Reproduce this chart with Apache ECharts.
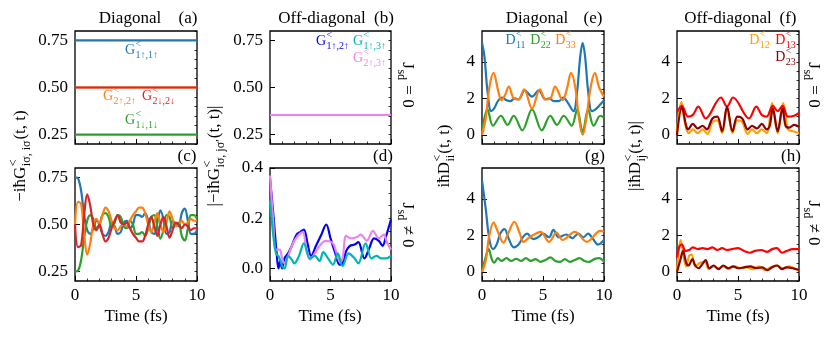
<!DOCTYPE html>
<html>
<head>
<meta charset="utf-8">
<script src="https://cdn.jsdelivr.net/npm/echarts@6/dist/echarts.min.js"></script>
<style>
  html, body { margin: 0; padding: 0; background: #fff; }
  #chart { width: 830px; height: 338px; }
</style>
</head>
<body>
<div id="chart"></div>
<script>
// ---- data (time in fs) ----
const timesC = [0,0.25,0.5,0.75,1,1.25,1.5,1.75,2,2.25,2.5,2.75,3,3.25,3.5,3.75,4,4.25,4.5,4.75,5,
                5.25,5.5,5.75,6,6.25,6.5,6.75,7,7.25,7.5,7.75,8,8.25,8.5,8.75,9,9.25,9.5,9.75,10];

// (a) J_sd = 0, diagonal G (constant)
const aBlue   = [[0,0.75],[10,0.75]];
const aOrange = [[0,0.5],[10,0.5]];
const aRed    = [[0,0.5],[10,0.5]];
const aGreen  = [[0,0.25],[10,0.25]];

// (b) J_sd = 0, off-diagonal |G| (constant, overlapping)
const bBlue   = [[0,0.354],[10,0.354]];
const bCyan   = [[0,0.354],[10,0.354]];
const bViolet = [[0,0.354],[10,0.354]];

// (c) J_sd != 0, diagonal G
const cBlue   = [0.75,0.745,0.68,0.55,0.47,0.45,0.48,0.52,0.50,0.45,0.44,0.46,0.51,0.49,0.45,0.46,0.51,0.52,0.48,0.50,0.55,
                 0.55,0.54,0.56,0.52,0.46,0.45,0.51,0.575,0.53,0.45,0.46,0.52,0.50,0.49,0.56,0.585,0.52,0.45,0.45,0.47];
const cGreen  = [0.25,0.255,0.31,0.43,0.52,0.55,0.53,0.48,0.50,0.55,0.56,0.54,0.49,0.51,0.55,0.54,0.49,0.48,0.52,0.50,0.45,
                 0.45,0.46,0.44,0.48,0.54,0.55,0.49,0.425,0.47,0.55,0.54,0.48,0.50,0.51,0.44,0.415,0.48,0.55,0.55,0.53];
const cOrange = [0.50,0.62,0.61,0.45,0.34,0.40,0.50,0.53,0.50,0.55,0.59,0.57,0.52,0.48,0.47,0.49,0.50,0.49,0.52,0.55,0.57,
                 0.59,0.59,0.56,0.50,0.46,0.51,0.56,0.50,0.46,0.51,0.57,0.53,0.49,0.50,0.52,0.50,0.51,0.53,0.52,0.52];
const cRed    = [0.50,0.38,0.39,0.55,0.66,0.60,0.50,0.47,0.50,0.45,0.41,0.43,0.48,0.52,0.55,0.51,0.50,0.51,0.48,0.45,0.43,
                 0.41,0.41,0.44,0.50,0.54,0.49,0.44,0.50,0.54,0.49,0.43,0.47,0.51,0.50,0.48,0.50,0.49,0.47,0.48,0.48];

// (d) J_sd != 0, off-diagonal |G|
const dBlue = [[0,0.36],[0.3,0.2],[0.55,0.06],[0.7,0.0],[0.85,0.03],[1.0,0.0],[1.2,0.04],[1.5,0.06],[1.8,0.09],
               [2.2,0.135],[2.5,0.145],[2.8,0.155],[3.1,0.10],[3.4,0.05],[3.8,0.09],[4.2,0.13],[4.65,0.175],[5.0,0.12],
               [5.4,0.06],[5.75,0.015],[6.0,0.02],[6.3,0.07],[6.6,0.09],[7.0,0.095],[7.3,0.105],[7.8,0.04],[8.2,0.08],
               [8.6,0.12],[9.0,0.11],[9.3,0.09],[9.6,0.13],[10,0.195]];
const dCyan = [[0,0.27],[0.3,0.12],[0.5,0.06],[0.75,0.045],[1.0,0.01],[1.2,0.0],[1.5,0.05],[1.8,0.035],[2.0,0.02],
               [2.4,0.05],[2.8,0.10],[3.3,0.04],[3.7,0.05],[4.1,0.03],[4.4,0.065],[4.8,0.04],[5.2,0.015],[5.6,0.06],
               [6.0,0.01],[6.5,0.06],[7.0,0.04],[7.3,0.02],[7.9,0.10],[8.4,0.04],[8.8,0.05],[9.2,0.04],[9.6,0.04],[10,0.05]];
const dViolet = [[0,0.37],[0.25,0.2],[0.5,0.075],[0.8,0.075],[1.0,0.04],[1.2,0.02],[1.5,0.05],[1.9,0.10],[2.3,0.13],
                 [2.7,0.145],[3.0,0.08],[3.3,0.035],[3.7,0.06],[4.1,0.09],[4.6,0.11],[5.2,0.10],[5.5,0.06],[5.8,0.025],
                 [6.0,0.04],[6.3,0.13],[6.7,0.12],[7.2,0.125],[7.5,0.135],[8.0,0.11],[8.5,0.15],[9.0,0.12],[9.4,0.135],
                 [9.7,0.10],[10,0.075]];

// (e) J_sd = 0, diagonal D
const eBlue = [[0,5.05],[0.2,4.3],[0.45,2.4],[0.75,1.3],[1.0,1.45],[1.3,1.85],[1.65,2.05],[2.0,1.9],[2.3,1.85],[2.7,2.0],
               [3.0,1.95],[3.5,2.45],[4.1,2.1],[4.65,2.45],[5.2,1.95],[5.5,2.0],[5.9,1.85],[6.3,1.85],[6.65,2.05],
               [7.0,1.8],[7.5,1.3],[7.8,2.4],[8.05,4.3],[8.25,5.05],[8.45,4.3],[8.7,2.4],[9.0,1.3],[9.3,1.4],[9.6,1.6],[10,1.9]];
const eGreen = [[0,0.15],[0.45,1.4],[0.9,0.5],[1.55,1.05],[2.1,0.55],[2.6,1.05],[3.3,0.25],[4.1,1.4],[4.9,0.25],
                [5.6,1.05],[6.15,0.55],[6.7,1.05],[7.35,0.5],[7.8,1.4],[8.25,0.15],[8.7,1.4],[9.15,0.5],[9.7,1.05],[10,0.95]];
const eOrange = [[0,0.0],[0.3,0.9],[0.6,2.6],[0.95,3.4],[1.3,2.5],[1.6,1.9],[1.9,2.2],[2.2,2.65],[2.6,2.0],[3.0,1.95],
                 [3.45,2.5],[4.1,1.45],[4.75,2.5],[5.2,1.95],[5.6,2.0],[6.0,2.65],[6.6,1.9],[6.95,2.5],[7.3,3.4],
                 [7.65,2.6],[7.95,0.9],[8.25,0.0],[8.55,0.9],[8.9,2.6],[9.25,3.4],[9.6,2.6],[10,2.1]];

// (f) J_sd = 0, off-diagonal |D|
const fOrange = [[0,0.2],[0.35,1.8],[0.7,0.5],[0.95,0.1],[1.3,0.3],[1.7,0.1],[2.1,0.3],[2.5,0.05],[2.9,0.7],[3.3,0.8],
                 [3.7,0.1],[4.1,1.5],[4.55,0.1],[4.95,0.8],[5.35,0.7],[5.8,0.05],[6.15,0.3],[6.55,0.1],[6.95,0.3],
                 [7.35,0.1],[7.8,1.75],[8.25,0.1],[8.7,1.75],[9.1,0.3],[9.5,0.2],[10,0.1]];
const fRed = [[0,1.25],[0.4,1.6],[0.9,1.0],[1.3,1.1],[1.75,1.55],[2.35,0.9],[3.6,2.05],[4.1,1.55],[4.6,2.05],
              [5.9,0.9],[6.5,1.55],[6.95,1.1],[7.35,1.0],[7.85,1.6],[8.25,1.3],[8.65,1.6],[9.1,1.0],[9.6,1.05],[10,1.2]];
const fDark = [[0,0.0],[0.4,1.5],[0.75,0.5],[0.9,0.3],[1.3,0.6],[1.7,0.35],[2.1,0.5],[2.45,0.3],[2.9,0.9],[3.3,1.0],
               [3.7,0.2],[4.1,1.55],[4.55,0.2],[4.95,1.0],[5.35,0.9],[5.8,0.3],[6.15,0.5],[6.55,0.35],[6.95,0.6],
               [7.35,0.3],[7.6,0.5],[7.85,1.45],[8.25,0.2],[8.65,1.45],[8.9,0.5],[9.2,0.4],[9.6,0.55],[10,0.45]];

// (g) J_sd != 0, diagonal D
const gBlue = [[0,5.0],[0.3,3.5],[0.6,1.8],[0.9,1.25],[1.2,1.5],[1.5,2.1],[1.85,2.35],[2.2,1.8],[2.6,1.35],[3.0,1.5],
               [3.4,1.95],[3.7,2.1],[4.2,1.8],[4.6,1.9],[5.0,2.1],[5.5,1.9],[5.85,2.3],[6.3,1.9],[6.9,2.05],[7.4,1.85],
               [7.9,2.1],[8.3,1.9],[8.7,2.1],[9.1,1.8],[9.5,1.5],[10,1.75]];
const gGreen = [[0,0.0],[0.3,0.8],[0.55,1.25],[0.8,0.7],[1.0,0.5],[1.3,0.75],[1.6,0.6],[2.0,0.75],[2.4,0.6],[2.8,0.72],
                [3.2,0.6],[3.6,0.75],[4.0,0.6],[4.4,0.7],[4.8,0.55],[5.2,0.65],[5.6,0.8],[6.0,0.6],[6.4,0.55],[6.8,0.7],
                [7.2,0.55],[7.6,0.65],[8.0,0.75],[8.4,0.6],[8.8,0.55],[9.2,0.7],[9.6,0.75],[10,0.55]];
const gOrange = [[0,0.0],[0.3,0.6],[0.6,2.0],[0.95,2.7],[1.3,2.2],[1.75,1.6],[2.2,2.2],[2.65,2.75],[3.1,2.1],[3.4,1.65],
                 [3.9,1.9],[4.8,2.2],[5.5,1.65],[6.1,2.15],[6.6,1.75],[7.6,2.2],[8.6,1.65],[9.7,2.25],[10,2.2]];

// (h) J_sd != 0, off-diagonal |D|
const hOrange = [[0,0.0],[0.15,1.2],[0.3,1.75],[0.5,1.0],[0.75,0.3],[1.0,0.9],[1.2,0.95],[1.5,0.3],[1.9,0.5],[2.3,0.55],
                 [2.6,0.15],[3.0,0.3],[3.4,0.2],[3.8,0.3],[4.2,0.15],[4.7,0.3],[5.2,0.2],[5.7,0.25],[6.2,0.15],[6.7,0.3],
                 [7.2,0.1],[7.7,0.25],[8.2,0.35],[8.7,0.2],[9.2,0.3],[9.6,0.2],[10,0.1]];
const hRed = [[0,0.8],[0.2,1.4],[0.4,1.5],[0.7,1.15],[1.0,1.2],[1.3,1.35],[1.7,1.25],[2.1,1.3],[2.5,1.25],[2.9,1.35],
              [3.3,1.2],[3.7,1.3],[4.1,1.2],[4.5,1.25],[5.0,1.3],[5.5,1.15],[6.0,1.05],[6.4,1.15],[6.9,1.2],[7.4,1.1],
              [7.8,1.25],[8.2,1.3],[8.6,1.05],[9.0,1.15],[9.5,1.25],[10,1.25]];
const hDark = [[0,0.0],[0.25,0.6],[0.5,1.15],[0.75,0.5],[0.95,0.35],[1.25,0.7],[1.5,0.35],[1.75,0.2],[2.1,0.45],
               [2.35,0.65],[2.65,0.2],[3.0,0.35],[3.4,0.15],[3.8,0.35],[4.2,0.2],[4.6,0.3],[5.0,0.2],[5.5,0.25],[6.0,0.3],
               [6.5,0.2],[7.0,0.25],[7.4,0.1],[7.8,0.25],[8.2,0.35],[8.6,0.15],[9.0,0.25],[9.5,0.2],[10,0.1]];

const xTicks = [0, 5, 10];

// ---- styling ----
const SERIF = '"Liberation Serif", "Times New Roman", serif';
const TAB = { blue: '#1f77b4', orange: '#ff7f0e', green: '#2ca02c', red: '#d62728' };
const OFF = { blue: '#0000ff', cyan: '#00b5b5', violet: '#ee82ee' };
const DC  = { orange: '#ffa000', red: '#ff0000', dark: '#8b0000' };

const onGrid = (ys) => timesC.map((t, k) => [t, ys[k]]);

// panel layout: left, top, width, y range, ticks
const panels = [
  { left: 75,  top: 31,  w: 122, min: 0.2,   max: 0.8, major: [0.25, 0.5, 0.75], minor: 0.05, dec: 2, bottom: false,
    lines: [[aBlue, TAB.blue], [aGreen, TAB.green], [aOrange, TAB.orange], [aRed, TAB.red]] },
  { left: 270, top: 31,  w: 121, min: 0.2,   max: 0.8, major: [0.25, 0.5, 0.75], minor: 0.05, dec: 2, bottom: false,
    lines: [[bBlue, OFF.blue], [bCyan, OFF.cyan], [bViolet, OFF.violet]] },
  { left: 482, top: 31,  w: 122, min: -0.5,  max: 5.7, major: [0, 2, 4], minor: 0.5, dec: 0, bottom: false,
    lines: [[eBlue, TAB.blue], [eGreen, TAB.green], [eOrange, TAB.orange]] },
  { left: 677, top: 31,  w: 122, min: -0.5,  max: 5.7, major: [0, 2, 4], minor: 0.5, dec: 0, bottom: false,
    lines: [[fOrange, DC.orange], [fRed, DC.red], [fDark, DC.dark]] },
  { left: 75,  top: 168, w: 122, min: 0.2,   max: 0.8, major: [0.25, 0.5, 0.75], minor: 0.05, dec: 2, bottom: true,
    lines: [[onGrid(cBlue), TAB.blue], [onGrid(cGreen), TAB.green], [onGrid(cOrange), TAB.orange], [onGrid(cRed), TAB.red]] },
  { left: 270, top: 168, w: 121, min: -0.05, max: 0.4, major: [0, 0.2, 0.4], minor: 0.05, dec: 1, bottom: true,
    lines: [[dBlue, OFF.blue], [dViolet, OFF.violet], [dCyan, OFF.cyan]] },
  { left: 482, top: 168, w: 122, min: -0.5,  max: 5.7, major: [0, 2, 4], minor: 0.5, dec: 0, bottom: true,
    lines: [[gBlue, TAB.blue], [gGreen, TAB.green], [gOrange, TAB.orange]] },
  { left: 677, top: 168, w: 122, min: -0.5,  max: 5.7, major: [0, 2, 4], minor: 0.5, dec: 0, bottom: true,
    lines: [[hOrange, DC.orange], [hRed, DC.red], [hDark, DC.dark]] }
];
const PH = 113;

const labelFont = { fontFamily: SERIF, fontSize: 17, color: '#000' };

const grid = [], xAxis = [], yAxis = [], series = [];
panels.forEach((p, i) => {
  grid.push({ left: p.left, top: p.top, width: p.w, height: PH, show: true,
              borderColor: '#000', borderWidth: 1.3, backgroundColor: 'transparent' });
  xAxis.push({
    type: 'value', gridIndex: i, min: 0, max: 10, interval: 5,
    axisLine: { show: false, onZero: false },
    axisTick: { show: true, inside: true, length: 5, lineStyle: { color: '#000', width: 1 } },
    minorTick: { show: true, splitNumber: 5, length: 2.5, lineStyle: { color: '#000', width: 0.8 } },
    axisLabel: Object.assign({ show: p.bottom, margin: 6, customValues: xTicks }, labelFont),
    splitLine: { show: false }
  });
  yAxis.push({
    type: 'value', gridIndex: i, min: p.min, max: p.max,
    axisLine: { show: false, onZero: false },
    axisTick: { show: true, inside: true, length: 5, customValues: p.major, lineStyle: { color: '#000', width: 1 } },
    axisLabel: Object.assign({ margin: 7, customValues: p.major, formatter: v => v.toFixed(p.dec) }, labelFont),
    splitLine: { show: false }
  });
  p.lines.forEach(([data, color]) => {
    series.push({
      type: 'line', xAxisIndex: i, yAxisIndex: i, data: data,
      smooth: 0.35, showSymbol: false, clip: true,
      lineStyle: { color: color, width: 2.2 }, itemStyle: { color: color }
    });
  });
});
// minor y ticks, one extra y axis per grid
panels.forEach((p, i) => {
  yAxis.push({
    type: 'value', gridIndex: i, min: p.min, max: p.max, interval: p.minor,
    axisLine: { show: false, onZero: false },
    axisTick: { show: true, inside: true, length: 2.5, lineStyle: { color: '#000', width: 0.8 } },
    axisLabel: { show: false }, splitLine: { show: false }
  });
});

// ---- math-like text built from pieces ----
const measureCtx = document.createElement('canvas').getContext('2d');
function textWidth(s, size) {
  measureCtx.font = size + 'px ' + SERIF;
  return measureCtx.measureText(s).width;
}
function txt(s, x, y, size, color) {
  return { type: 'text', x: x, y: y,
    style: { text: s, font: size + 'px ' + SERIF, fill: color,
             textAlign: 'left', align: 'left', textVerticalAlign: 'middle', verticalAlign: 'middle' } };
}
function mathText(x, y, parts, size, color, rotation, ratio) {
  const small = Math.round(size * (ratio || 0.68));
  const children = [];
  let cx = 0;
  parts.forEach(p => {
    if (typeof p === 'string') {
      children.push(txt(p, cx, 0, size, color));
      cx += textWidth(p, size);
    } else {
      let wmax = 0;
      if (p.sup) { children.push(txt(p.sup, cx + 0.5, -size * 0.42, small, color)); wmax = Math.max(wmax, textWidth(p.sup, small)); }
      if (p.sub) { children.push(txt(p.sub, cx + 0.5, size * 0.36, small, color)); wmax = Math.max(wmax, textWidth(p.sub, small)); }
      cx += wmax + 1.5;
    }
  });
  children.forEach(c => { c.x -= cx / 2; });
  return { type: 'group', x: x, y: y, rotation: rotation || 0, children: children };
}
const legendText = (x, y, parts, color) => mathText(x, y, parts, 14, color, 0, 0.72);

const R90 = Math.PI / 2;
const graphic = [
  mathText(130, 19, ['Diagonal'], 17, '#000'),
  mathText(188, 19, ['(a)'], 17, '#000'),
  mathText(322, 19, ['Off-diagonal'], 17, '#000'),
  mathText(384, 19, ['(b)'], 17, '#000'),
  mathText(537, 19, ['Diagonal'], 17, '#000'),
  mathText(593, 19, ['(e)'], 17, '#000'),
  mathText(728, 19, ['Off-diagonal'], 17, '#000'),
  mathText(788, 19, ['(f)'], 17, '#000'),
  mathText(187, 157, ['(c)'], 17, '#000'),
  mathText(383, 157, ['(d)'], 17, '#000'),
  mathText(595, 157, ['(g)'], 17, '#000'),
  mathText(791, 157, ['(h)'], 17, '#000'),

  mathText(136, 317, ['Time (fs)'], 17, '#000'),
  mathText(330, 317, ['Time (fs)'], 17, '#000'),
  mathText(543, 317, ['Time (fs)'], 17, '#000'),
  mathText(738, 317, ['Time (fs)'], 17, '#000'),

  mathText(21, 156, ['\u2212i\u0127G', { sup: '<', sub: 'i\u03c3, i\u03c3' }, '(t, t)'], 17, '#000', R90),
  mathText(215, 156, ['|\u2212i\u0127G', { sup: '<', sub: 'i\u03c3, j\u03c3\u2032' }, '(t, t)|'], 17, '#000', R90),
  mathText(445, 156, ['i\u0127D', { sup: '<', sub: 'ii' }, '(t, t)'], 17, '#000', R90),
  mathText(636, 156, ['|i\u0127D', { sup: '<', sub: 'ij' }, '(t, t)|'], 17, '#000', R90),

  mathText(407, 85, ['J', { sub: 'sd' }, ' = 0'], 17, '#000', -R90),
  mathText(407, 225, ['J', { sub: 'sd' }, ' \u2260 0'], 17, '#000', -R90),
  mathText(813, 85, ['J', { sub: 'sd' }, ' = 0'], 17, '#000', -R90),
  mathText(813, 223, ['J', { sub: 'sd' }, ' \u2260 0'], 17, '#000', -R90),

  legendText(142, 50, ['G', { sup: '<', sub: '1\u2191,1\u2191' }], TAB.blue),
  legendText(120, 96, ['G', { sup: '<', sub: '2\u2191,2\u2191' }], TAB.orange),
  legendText(159, 96, ['G', { sup: '<', sub: '2\u2193,2\u2193' }], TAB.red),
  legendText(142, 120, ['G', { sup: '<', sub: '1\u2193,1\u2193' }], TAB.green),

  legendText(333, 41, ['G', { sup: '<', sub: '1\u2191,2\u2191' }], OFF.blue),
  legendText(370, 41, ['G', { sup: '<', sub: '1\u2191,3\u2191' }], OFF.cyan),
  legendText(370, 58, ['G', { sup: '<', sub: '2\u2191,3\u2191' }], OFF.violet),

  legendText(516, 40, ['D', { sup: '<', sub: '11' }], TAB.blue),
  legendText(541, 40, ['D', { sup: '<', sub: '22' }], TAB.green),
  legendText(566, 40, ['D', { sup: '<', sub: '33' }], TAB.orange),

  legendText(760, 40, ['D', { sup: '<', sub: '12' }], DC.orange),
  legendText(786, 40, ['D', { sup: '<', sub: '13' }], DC.red),
  legendText(786, 57, ['D', { sup: '<', sub: '23' }], DC.dark)
];

const chart = echarts.init(document.getElementById('chart'), null, { renderer: 'canvas' });
chart.setOption({
  animation: false,
  backgroundColor: '#fff',
  grid: grid,
  xAxis: xAxis,
  yAxis: yAxis,
  series: series,
  graphic: graphic
});
</script>
</body>
</html>
